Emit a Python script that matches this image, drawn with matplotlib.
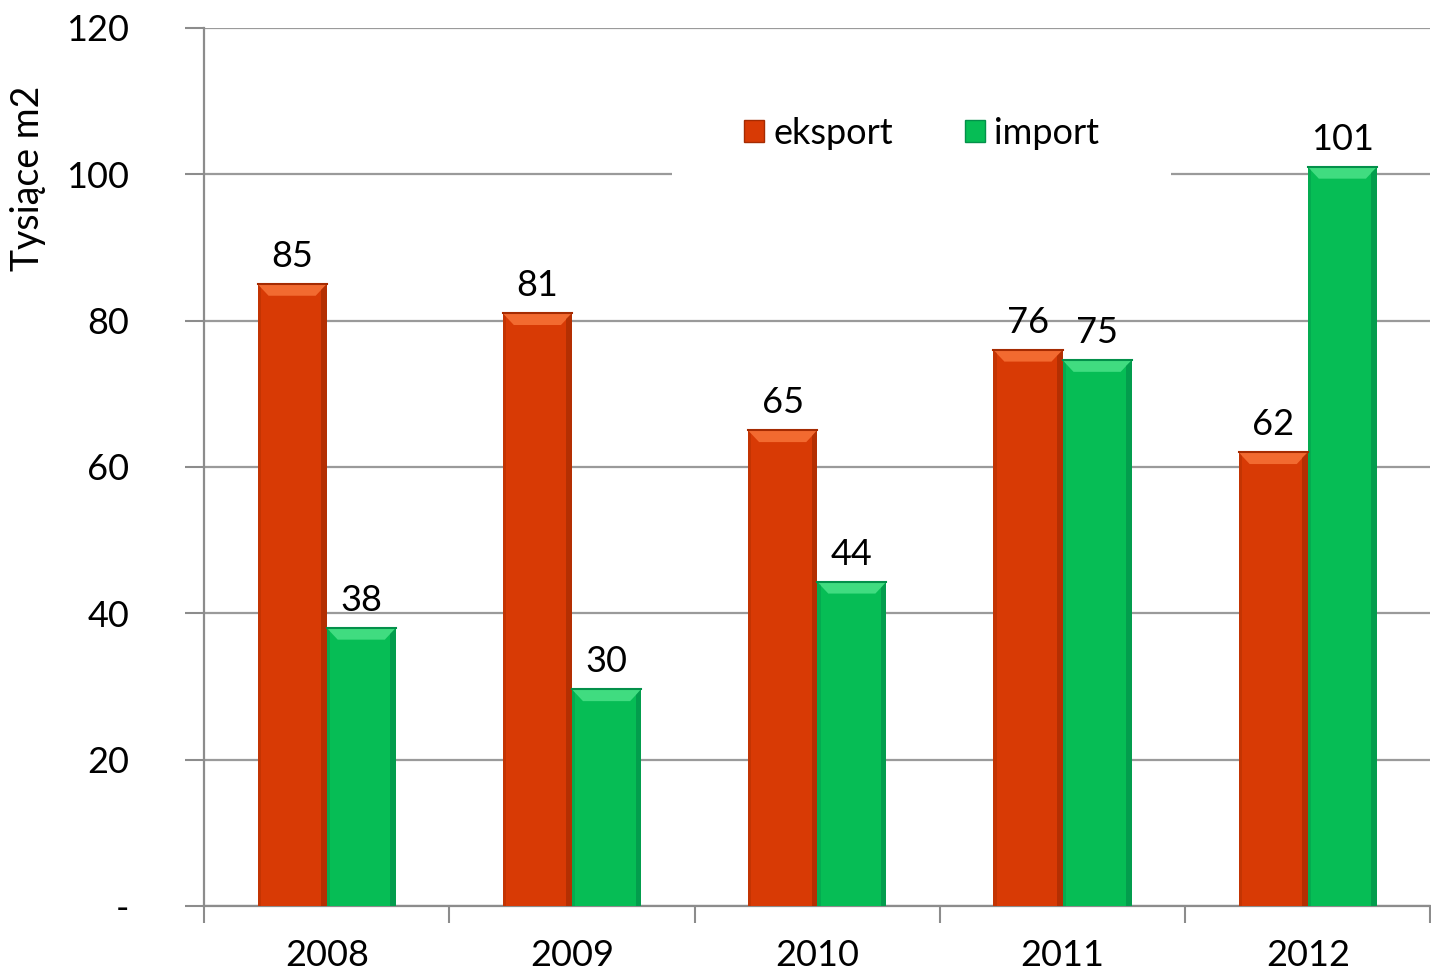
import matplotlib
matplotlib.use("Agg")
import matplotlib.pyplot as plt
from matplotlib.patches import Polygon, Patch
import numpy as np

years = ["2008", "2009", "2010", "2011", "2012"]
eksport = [85, 81, 65, 76, 62]
imp = [38, 29.6, 44.3, 74.6, 101]
series_names = ["eksport", "import"]
yticks = [0, 20, 40, 60, 80, 100, 120]
ytick_labels = ["-", "20", "40", "60", "80", "100", "120"]

col_main = ["#D83A05", "#06BD55"]
col_light = ["#F26A30", "#40DC80"]
col_dark = ["#A52B02", "#03904A"]

plt.rcParams['font.family'] = ['Lato', 'DejaVu Sans']
FS = 26

fig = plt.figure(figsize=(14.31, 9.8), dpi=100)
ax = fig.add_axes([0.1426, 0.0755, 0.857, 0.896])

x = np.arange(len(years))
w = 0.282

ax.set_xlim(-0.5, len(years) - 0.5)
ax.set_ylim(0, 120)

# bevel sizes (data units)
bh = 1.6
bw = 0.045


def bevel_bar(xc, h, k):
    x0 = xc - w / 2
    x1 = xc + w / 2
    ax.bar(xc, h, w, color=col_main[k], zorder=3, linewidth=0)
    top = [(x0, h), (x1, h), (x1 - bw, h - bh), (x0 + bw, h - bh)]
    ax.add_patch(Polygon(top, closed=True, color=col_light[k], lw=0, zorder=4))
    right = [(x1, h), (x1, 0), (x1 - bw * 0.5, 0), (x1 - bw * 0.5, h - bh * 0.5)]
    ax.add_patch(Polygon(right, closed=True, color=col_dark[k], lw=0, zorder=4, alpha=0.7))
    left = [(x0, h), (x0, 0), (x0 + bw * 0.3, 0), (x0 + bw * 0.3, h - bh * 0.3)]
    ax.add_patch(Polygon(left, closed=True, color=col_dark[k], lw=0, zorder=4, alpha=0.4))
    ax.plot([x0, x1], [h, h], color=col_dark[k], lw=1.5, zorder=5)
    ax.annotate("%d" % int(h + 0.5), (xc, h), xytext=(0, 8), textcoords="offset points",
                ha="center", va="bottom", fontsize=FS, color="black", zorder=6)


for i in range(len(years)):
    bevel_bar(x[i] - w / 2, eksport[i], 0)
    bevel_bar(x[i] + w / 2, imp[i], 1)

# grid
ax.set_yticks(yticks)
ax.set_yticklabels(ytick_labels)
ax.yaxis.grid(True, color="#9A9A9A", lw=1.6, zorder=0)
ax.set_axisbelow(True)

ax.set_xticks(x)
ax.set_xticklabels(years)
ax.set_xticks(np.arange(-0.5, len(years)), minor=True)
ax.tick_params(axis="x", which="major", length=0, pad=24, labelsize=FS)
ax.tick_params(axis="x", which="minor", length=12, width=1.5, color="#8C8C8C", direction="out")
ax.tick_params(axis="y", length=14, width=1.5, color="#8C8C8C", pad=40, labelsize=FS)

for s in ["top", "right"]:
    ax.spines[s].set_visible(False)
for s in ["left", "bottom"]:
    ax.spines[s].set_color("#8C8C8C")
    ax.spines[s].set_linewidth(1.6)

fig.text(28 / 1431, 0.818, "Tysiące m2", rotation=90, ha="center", va="center", fontsize=27)

handles = [Patch(facecolor=col_main[0], edgecolor=col_dark[0]),
           Patch(facecolor=col_main[1], edgecolor=col_dark[1])]
leg = ax.legend(handles, series_names, loc="center", bbox_to_anchor=(0.585, 0.88),
                ncol=2, fontsize=FS, frameon=True, framealpha=1, facecolor="white",
                edgecolor="none", handlelength=0.55, handleheight=0.55, handletextpad=0.25,
                columnspacing=2.0, borderpad=2.0, borderaxespad=0, fancybox=False)
leg.set_zorder(7)

fig.savefig("out.png", dpi=100)
